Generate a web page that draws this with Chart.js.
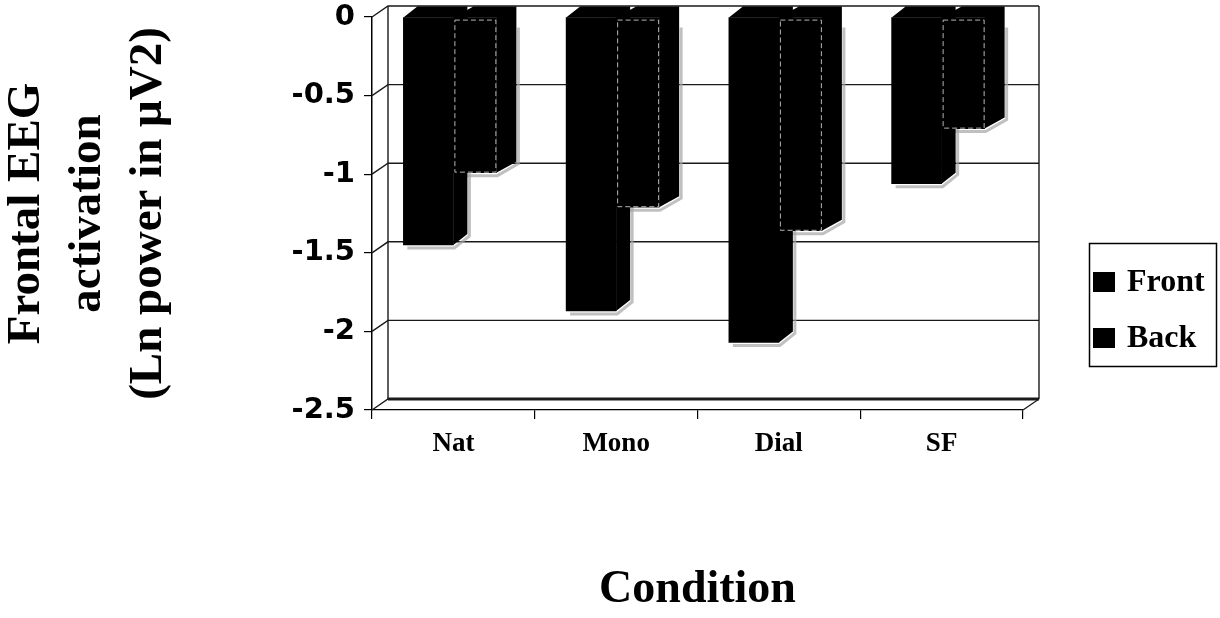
<!DOCTYPE html>
<html><head><meta charset="utf-8">
<script src="https://cdn.jsdelivr.net/npm/chart.js@4.4.0/dist/chart.umd.min.js"></script>
<style>html,body{margin:0;padding:0;background:#fff;}#wrap{width:1220px;height:618px;position:relative;}canvas{display:block;}</style>
</head><body><div id="wrap"><canvas id="c" width="1220" height="618" style="width:1220px;height:618px"></canvas></div>
<script>
const categories = ['Nat', 'Mono', 'Dial', 'SF'];
const frontValues = [-1.45, -1.87, -2.07, -1.06];
const backValues = [-0.99, -1.21, -1.36, -0.71];
const seriesNames = ['Front', 'Back'];
const yTickValues = [0, -0.5, -1, -1.5, -2, -2.5];
const yTickLabels = ['0', '-0.5', '-1', '-1.5', '-2', '-2.5'];
const yTitleLines = ['Frontal EEG', 'activation', '(Ln power in \u03bcV2)'];
const xTitleText = 'Condition';

const SERIF = '"Liberation Serif", "Times New Roman", serif';
const WALL = {dx: 16, dy: 11};
const BAR_DEPTH = [{dx: 14, dy: 11}, {dx: 20, dy: 11}];

function barBox(bar) {
  const p = bar.getProps(['x', 'y', 'base', 'width'], true);
  return {l: p.x - p.width / 2, r: p.x + p.width / 2, top: Math.min(p.y, p.base), bot: Math.max(p.y, p.base)};
}

const frame3d = {
  id: 'frame3d',
  beforeDatasetsDraw(chart) {
    const {ctx, chartArea: a, scales: {y}} = chart;
    ctx.save();
    const bx0 = a.left + WALL.dx, bx1 = a.right + WALL.dx;
    const yTop = y.getPixelForValue(0) - WALL.dy, yBot = y.getPixelForValue(-2.5) - WALL.dy;
    ctx.strokeStyle = '#1a1a1a';
    ctx.lineWidth = 1.4;
    y.ticks.forEach(t => {
      const py = y.getPixelForValue(t.value);
      ctx.beginPath();
      ctx.moveTo(a.left, py);
      ctx.lineTo(bx0, py - WALL.dy);
      ctx.lineTo(bx1, py - WALL.dy);
      ctx.stroke();
    });
    ctx.beginPath();
    ctx.moveTo(bx0, yTop); ctx.lineTo(bx0, yBot);
    ctx.moveTo(bx1, yTop); ctx.lineTo(bx1, yBot);
    ctx.stroke();
    ctx.lineWidth = 3;
    ctx.beginPath();
    ctx.moveTo(bx0, yBot); ctx.lineTo(bx1, yBot);
    ctx.stroke();
    ctx.lineWidth = 1.3;
    ctx.beginPath();
    ctx.moveTo(a.right, a.bottom); ctx.lineTo(bx1, yBot);
    ctx.stroke();
    // soft grey shading beside and under the bars
    ctx.strokeStyle = 'rgba(165,165,165,0.7)';
    ctx.lineWidth = 3;
    chart.data.datasets.forEach((ds, i) => {
      const d = BAR_DEPTH[i];
      chart.getDatasetMeta(i).data.forEach(bar => {
        const b = barBox(bar);
        ctx.beginPath();
        ctx.moveTo(b.r + d.dx + 2, b.top + 10);
        ctx.lineTo(b.r + d.dx + 2, b.bot - d.dy + 2);
        ctx.lineTo(b.r + 1, b.bot + 3);
        ctx.lineTo(b.l + 4, b.bot + 3);
        ctx.stroke();
      });
    });
    ctx.restore();
  },
  beforeDatasetDraw(chart, args) {
    const {ctx} = chart;
    const d = BAR_DEPTH[args.index] || BAR_DEPTH[0];
    ctx.save();
    ctx.fillStyle = '#000';
    args.meta.data.forEach(bar => {
      const b = barBox(bar);
      ctx.beginPath();
      ctx.moveTo(b.l, b.top);
      ctx.lineTo(b.l + d.dx, b.top - d.dy);
      ctx.lineTo(b.r + d.dx, b.top - d.dy);
      ctx.lineTo(b.r + d.dx, b.bot - d.dy);
      ctx.lineTo(b.r, b.bot);
      ctx.lineTo(b.r, b.top);
      ctx.closePath();
      ctx.fill();
    });
    ctx.restore();
  },
  afterDatasetsDraw(chart) {
    const {ctx} = chart;
    const meta = chart.getDatasetMeta(1);
    ctx.save();
    ctx.strokeStyle = 'rgba(200,200,200,0.9)';
    ctx.lineWidth = 1;
    ctx.setLineDash([5, 3]);
    meta.data.forEach(bar => {
      const b = barBox(bar);
      ctx.strokeRect(b.l + 1.5, b.top + 2.5, b.r - b.l - 2, b.bot - b.top - 3);
    });
    ctx.restore();
  }
};

const legendBox = {
  id: 'legendBox',
  afterDraw(chart) {
    const ctx = chart.ctx;
    ctx.save();
    ctx.strokeStyle = '#000';
    ctx.lineWidth = 1.5;
    ctx.strokeRect(1089.5, 243.5, 127, 123);
    chart.data.datasets.forEach((ds, i) => {
      const cy = 282 + i * 56;
      ctx.fillStyle = ds.backgroundColor;
      ctx.fillRect(1093, cy - 10, 22, 20);
      ctx.fillStyle = '#000';
      ctx.font = 'bold 32px ' + SERIF;
      ctx.textBaseline = 'middle';
      ctx.textAlign = 'left';
      ctx.fillText(ds.label, 1127, cy + 1);
    });
    ctx.restore();
  }
};

new Chart(document.getElementById('c'), {
  type: 'bar',
  data: {
    labels: categories,
    datasets: [
      {label: seriesNames[0], data: frontValues, backgroundColor: '#000', borderWidth: 0, barThickness: 50},
      {label: seriesNames[1], data: backValues, backgroundColor: '#000', borderWidth: 0, barThickness: 43}
    ]
  },
  options: {
    responsive: false,
    animation: false,
    devicePixelRatio: 1,
    layout: {padding: {left: 0, right: 197, top: 17, bottom: 0}},
    datasets: {bar: {categoryPercentage: 0.565}},
    plugins: {legend: {display: false}, tooltip: {enabled: false}},
    scales: {
      x: {
        grid: {display: true, drawOnChartArea: false, drawTicks: true, tickLength: 9, color: '#000', lineWidth: 1.2, offset: true},
        border: {display: true, color: '#000', width: 1.2},
        ticks: {color: '#000', padding: 9, font: {family: SERIF, weight: 'bold', size: 27}},
        title: {display: true, text: xTitleText, color: '#000', padding: {top: 0, bottom: 0}, font: {family: SERIF, weight: 'bold', size: 46, lineHeight: 1.2}},
        afterFit(s) { s.height = 208; }
      },
      y: {
        min: -2.5, max: 0,
        afterBuildTicks(s) { s.ticks = yTickValues.map(v => ({value: v})); },
        grid: {display: true, drawOnChartArea: false, drawTicks: true, tickLength: 8, color: '#000', lineWidth: 1.2},
        border: {display: true, color: '#000', width: 1.5},
        ticks: {
          color: '#000', padding: 9,
          font: {family: '"DejaVu Sans", sans-serif', weight: 'bold', size: 29, lineHeight: 0.5},
          callback(value) { const i = yTickValues.indexOf(value); return i >= 0 ? yTickLabels[i] : String(value); }
        },
        title: {display: true, text: yTitleLines, color: '#000', padding: {top: -4, bottom: 0}, font: {family: SERIF, weight: 'bold', size: 47, lineHeight: 1.3}},
        afterFit(s) { s.width = 372; }
      }
    }
  },
  plugins: [frame3d, legendBox]
});
</script></body></html>
